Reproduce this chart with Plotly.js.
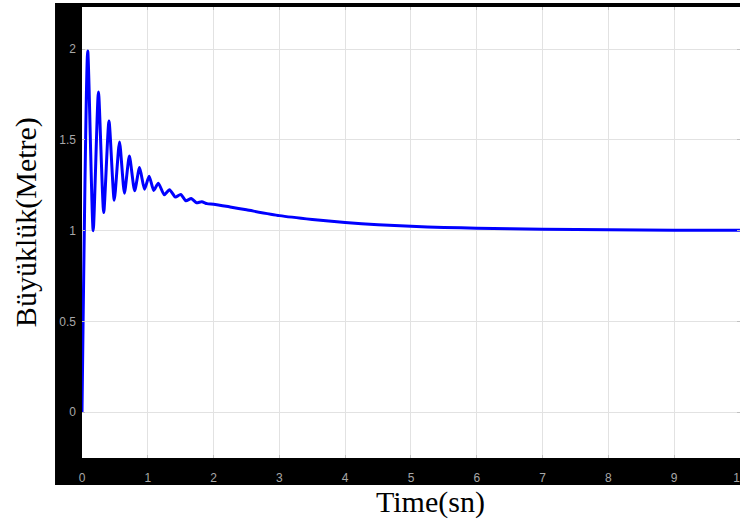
<!DOCTYPE html>
<html>
<head>
<meta charset="utf-8">
<script src="https://cdn.plot.ly/plotly-3.0.1.min.js"></script>
<style>html,body{margin:0;padding:0;background:#fff;}#chart{width:740px;height:524px;}</style>
</head>
<body>
<div id="chart"></div>
<script>
// Time (s) and response magnitude (m)
const timeSn = [0, 0.087, 0.17, 0.25, 0.33, 0.41, 0.49, 0.57, 0.645, 0.72, 0.80, 0.875, 0.95, 1.02, 1.09, 1.16, 1.25, 1.33, 1.42, 1.50, 1.58, 1.66, 1.74, 1.82, 1.9, 2.0, 2.25, 2.5, 3.0, 3.5, 4.0, 4.5, 5.0, 5.5, 6.0, 7.0, 8.0, 9.0, 10.0];
const buyukluk = [0, 1.99, 1.00, 1.765, 1.10, 1.605, 1.168, 1.489, 1.207, 1.412, 1.22, 1.348, 1.229, 1.30, 1.222, 1.262, 1.198, 1.226, 1.185, 1.20, 1.165, 1.177, 1.154, 1.160, 1.149, 1.146, 1.131, 1.115, 1.083, 1.062, 1.045, 1.033, 1.024, 1.018, 1.014, 1.008, 1.005, 1.003, 1.002];

const xTicks = [0, 1, 2, 3, 4, 5, 6, 7, 8, 9, 10];
const yTicks = [0, 0.5, 1, 1.5, 2];
const yTickText = ['0', '0.5', '1', '1.5', '2'];

const xTitle = 'Time(sn)';
const yTitle = 'Büyüklük(Metre)';

const tickFont = {family: 'Liberation Sans, Arial, sans-serif', size: 12, color: '#a8a8a8'};
const titleFont = {family: 'Liberation Serif, Times New Roman, serif', size: 30, color: '#000'};

const trace = {
  x: timeSn, y: buyukluk, type: 'scatter', mode: 'lines',
  line: {color: '#0000ff', width: 3, shape: 'spline', smoothing: 0.6},
  hoverinfo: 'skip'
};

const layout = {
  width: 740, height: 524,
  margin: {l: 82, r: 0, t: 7, b: 66, pad: 0},
  paper_bgcolor: '#ffffff', plot_bgcolor: '#ffffff',
  showlegend: false,
  xaxis: {
    range: [0, 10.0005], tickvals: xTicks, showgrid: true, gridcolor: '#e2e2e2', gridwidth: 1,
    zeroline: false, showline: false, ticks: 'inside', ticklen: 3, tickcolor: '#c0c0c0',
    mirror: 'ticks', tickfont: tickFont, ticklabelstandoff: 11, ticklabeloverflow: 'allow', fixedrange: true
  },
  yaxis: {
    range: [-0.253, 2.233], tickvals: yTicks, ticktext: yTickText, showgrid: true, gridcolor: '#e2e2e2', gridwidth: 1,
    zeroline: false, showline: false, ticks: 'inside', ticklen: 3, tickcolor: '#c0c0c0',
    mirror: 'ticks', tickfont: tickFont, ticklabelstandoff: 5, fixedrange: true
  },
  shapes: [
    {type: 'rect', xref: 'paper', yref: 'paper', x0: -0.041, x1: 1.01, y0: -0.0599, y1: 1.0089,
     fillcolor: '#000000', line: {width: 0}, layer: 'below'},
    {type: 'rect', xref: 'paper', yref: 'paper', x0: 0, x1: 1.01, y0: 0, y1: 1,
     fillcolor: '#ffffff', line: {width: 0}, layer: 'below'}
  ],
  annotations: [
    {text: yTitle, xref: 'paper', yref: 'paper', x: -0.0851, y: 0.523, xanchor: 'center', yanchor: 'middle',
     textangle: -90, showarrow: false, font: titleFont},
    {text: xTitle, xref: 'paper', yref: 'paper', x: 0.529, y: -0.0976, xanchor: 'center', yanchor: 'middle',
     showarrow: false, font: titleFont}
  ]
};

Plotly.newPlot('chart', [trace], layout, {displayModeBar: false, staticPlot: true});
</script>
</body>
</html>
